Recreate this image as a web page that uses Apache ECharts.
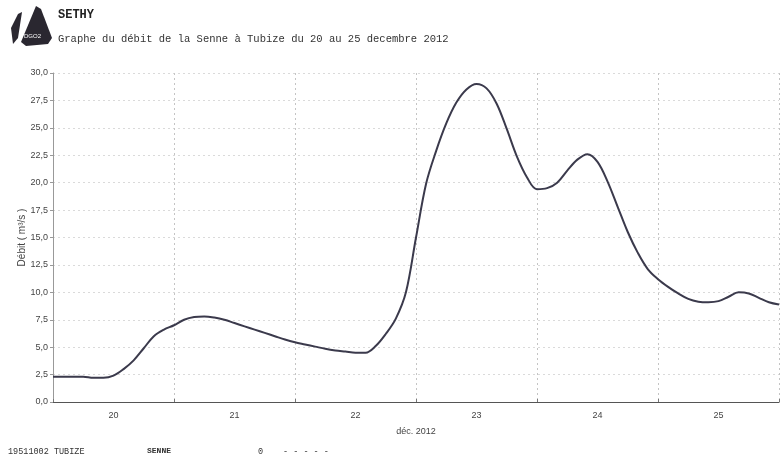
<!DOCTYPE html>
<html>
<head>
<meta charset="utf-8">
<script src="https://cdn.jsdelivr.net/npm/echarts@6/dist/echarts.min.js"></script>
<style>
html,body{margin:0;padding:0;background:#fff;}
#c{width:782px;height:458px;}
</style>
</head>
<body>
<div id="c"></div>
<script>
// hours since 20 Dec 2012 00:00
const hours = [0, 2, 4, 6, 8, 10, 12, 14, 16, 18, 20, 22, 24, 26, 28, 30, 32, 34, 36, 38, 40, 42, 44, 46, 48, 50, 52, 54, 56, 58, 60, 62, 64, 66, 68, 70, 72, 74, 76, 78, 80, 82, 84, 86, 88, 90, 92, 94, 96, 98, 100, 102, 104, 106, 108, 110, 112, 114, 116, 118, 120, 122, 124, 126, 128, 130, 132, 134, 136, 138, 140, 142, 144];
// flow (m3/s)
const flow = [2.3, 2.3, 2.3, 2.3, 2.2, 2.2, 2.4, 3.0, 3.8, 4.9, 6.0, 6.6, 7.0, 7.5, 7.75, 7.8, 7.7, 7.5, 7.2, 6.9, 6.6, 6.3, 6.0, 5.7, 5.45, 5.25, 5.05, 4.85, 4.7, 4.6, 4.5, 4.5, 5.1, 6.2, 7.6, 10.0, 15.0, 19.9, 22.9, 25.4, 27.3, 28.5, 29.0, 28.6, 27.2, 24.9, 22.4, 20.5, 19.4, 19.5, 20.0, 21.1, 22.1, 22.6, 21.9, 20.1, 17.8, 15.5, 13.6, 12.1, 11.2, 10.5, 9.9, 9.4, 9.15, 9.1, 9.2, 9.6, 10.0, 9.9, 9.5, 9.1, 8.9];
const dayLabels = ['20', '21', '22', '23', '24', '25'];
const titleText = 'SETHY';
const subtitleText = 'Graphe du débit de la Senne à Tubize du 20 au 25 decembre 2012';
const xAxisName = 'déc. 2012';
const yAxisName = 'Débit ( m³/s )';
const footer = ['19511002 TUBIZE', 'SENNE', '0', '- - - - -'];

const chart = echarts.init(document.getElementById('c'), null, {renderer: 'canvas'});
const data = hours.map((h, i) => [h, flow[i]]);
const axisFont = {fontFamily: 'Liberation Sans Narrow, Liberation Sans, Arial, sans-serif', fontSize: 9, color: '#444'};

chart.setOption({
  animation: false,
  backgroundColor: '#fff',
  grid: {left: 53, right: 0, top: 73, bottom: 56, containLabel: false},
  xAxis: [{
    type: 'value', min: 0, max: 144, interval: 12,
    axisLine: {show: true, lineStyle: {color: '#555', width: 1.2}},
    axisTick: {show: false},
    splitLine: {show: false},
    axisLabel: Object.assign({
      margin: 9,
      formatter: v => (v % 24 === 12 ? dayLabels[(v - 12) / 24] : '')
    }, axisFont),
    name: xAxisName, nameLocation: 'middle', nameGap: 25,
    nameTextStyle: axisFont
  }, {
    type: 'value', min: 0, max: 144, interval: 24, position: 'bottom',
    axisLine: {show: false},
    axisTick: {show: true, length: 3, inside: true, lineStyle: {color: '#777'}},
    axisLabel: {show: false},
    splitLine: {show: true, lineStyle: {color: '#c4c4c4', type: [2, 3], width: 1}}
  }],
  yAxis: {
    type: 'value', min: 0, max: 30, interval: 2.5,
    axisLine: {show: true, lineStyle: {color: '#999', width: 1}},
    axisTick: {show: true, length: 3, lineStyle: {color: '#999'}},
    splitLine: {show: true, lineStyle: {color: '#dadada', type: [2, 3], width: 1}},
    axisLabel: Object.assign({
      margin: 5,
      formatter: v => v.toFixed(1).replace('.', ',')
    }, axisFont),
    name: yAxisName, nameLocation: 'middle', nameGap: 26, nameRotate: 90,
    nameMoveOverlap: false,
    nameTextStyle: Object.assign({}, axisFont, {fontSize: 10})
  },
  series: [{
    type: 'line', xAxisIndex: 0, data: data, smooth: 0.35, showSymbol: false,
    lineStyle: {color: '#3b3a4c', width: 2}
  }],
  graphic: [
    {type: 'polygon', shape: {points: [[18,14],[22,12],[18,38],[13,44],[11,28]]}, style: {fill: '#2a2730'}},
    {type: 'polygon', shape: {points: [[36,6],[41,9],[52,38],[48,44],[26,46],[21,42]]}, style: {fill: '#2a2730'}},
    {type: 'text', left: 24, top: 33, style: {text: 'DGO2', fill: '#fff', font: '6px Liberation Sans, Arial, sans-serif'}},
    {type: 'text', left: 58, top: 9, style: {text: titleText, fill: '#222', font: 'bold 12px Liberation Mono, DejaVu Sans Mono, monospace'}},
    {type: 'text', left: 58, top: 34, style: {text: subtitleText, fill: '#333', font: '10.5px Liberation Mono, DejaVu Sans Mono, monospace'}},
    {type: 'text', left: 8, top: 447, style: {text: footer[0], fill: '#333', font: '8.5px Liberation Mono, DejaVu Sans Mono, monospace'}},
    {type: 'text', left: 147, top: 447, style: {text: footer[1], fill: '#333', font: 'bold 8px Liberation Mono, DejaVu Sans Mono, monospace'}},
    {type: 'text', left: 258, top: 447, style: {text: footer[2], fill: '#333', font: '8.5px Liberation Mono, DejaVu Sans Mono, monospace'}},
    {type: 'text', left: 283, top: 447, style: {text: footer[3], fill: '#333', font: '8.5px Liberation Mono, DejaVu Sans Mono, monospace'}}
  ]
});
</script>
</body>
</html>
